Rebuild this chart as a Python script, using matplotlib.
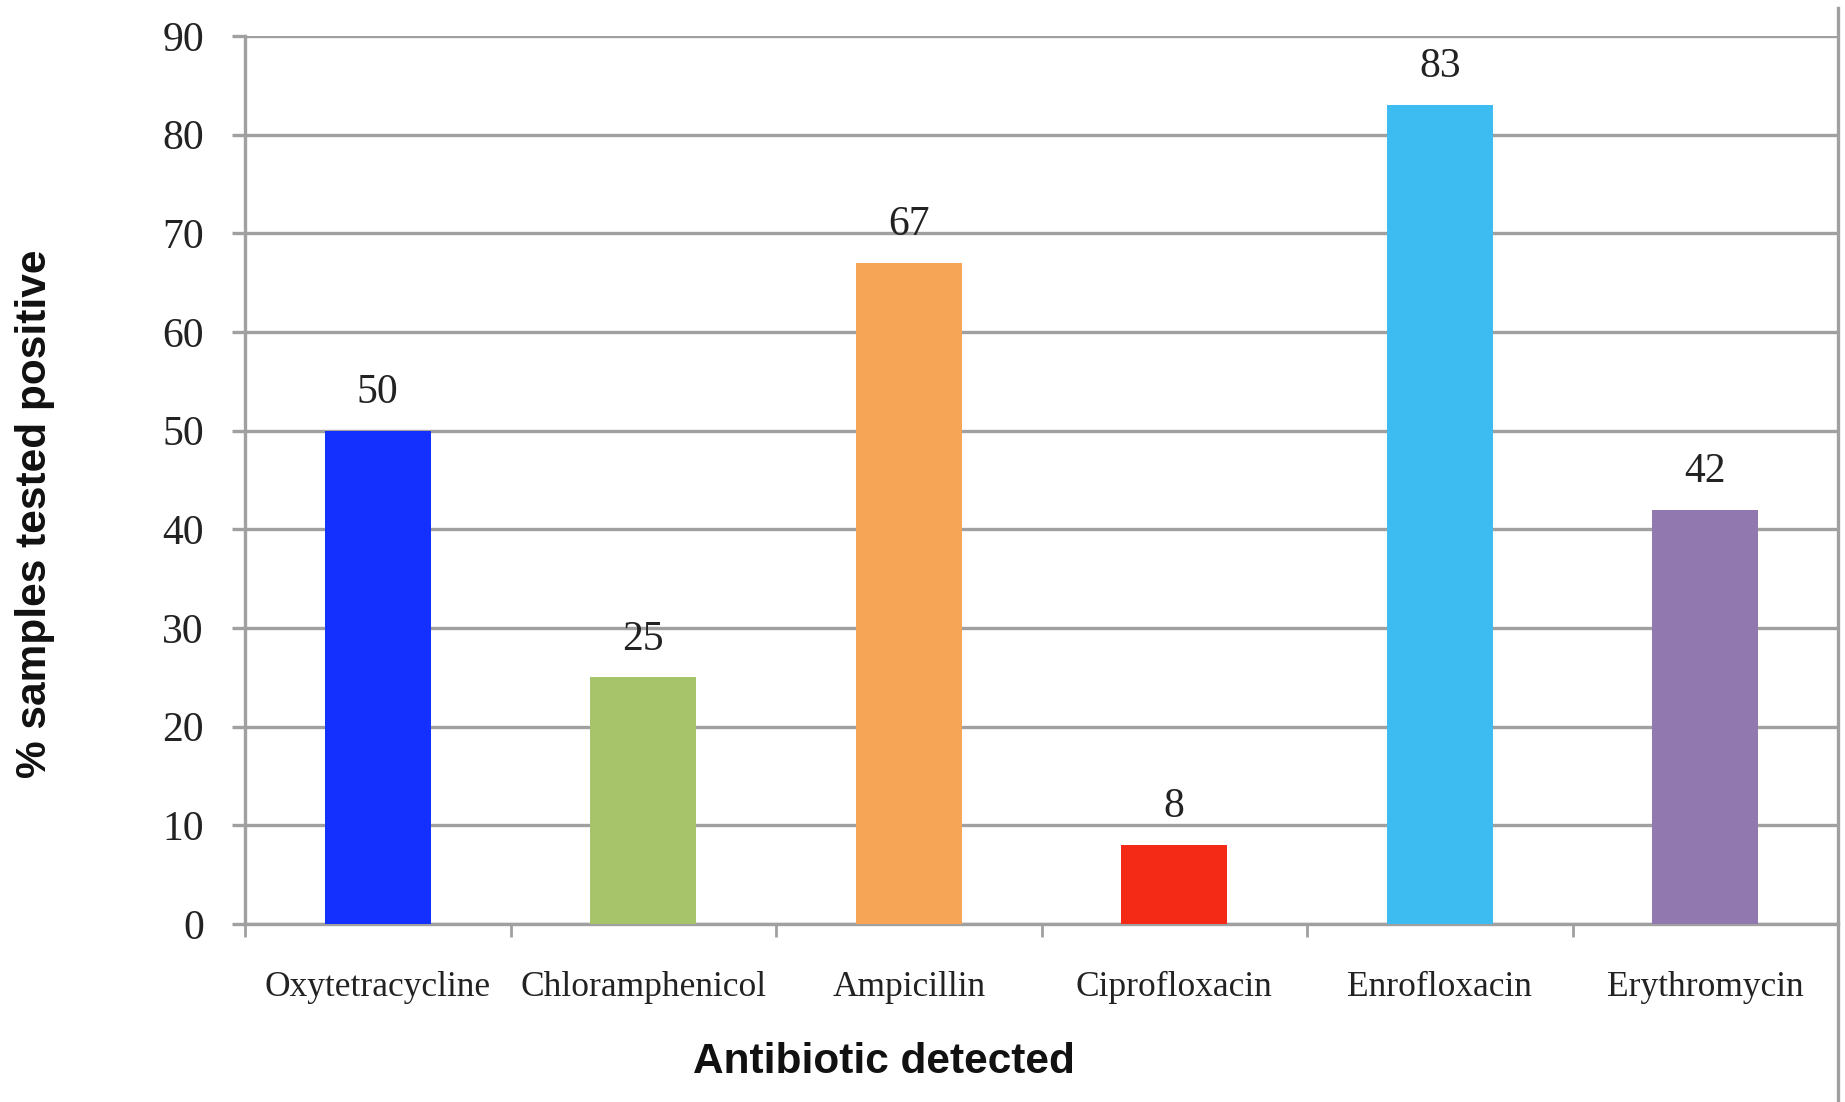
import matplotlib
matplotlib.use("Agg")
import matplotlib.pyplot as plt
from matplotlib.lines import Line2D

categories = ["Oxytetracycline", "Chloramphenicol", "Ampicillin",
              "Ciprofloxacin", "Enrofloxacin", "Erythromycin"]
values = [50, 25, 67, 8, 83, 42]
colors = ["#1430FF", "#A8C46B", "#F6A557", "#F42A16", "#3DBCF2", "#9179B0"]
yticks = [0, 10, 20, 30, 40, 50, 60, 70, 80, 90]

W, H, DPI = 1845, 1102, 100
fig = plt.figure(figsize=(W / DPI, H / DPI), dpi=DPI)
ax = fig.add_axes([245 / W, 1 - 924 / H, (1838 - 245) / W, (924 - 36) / H])

grid_c = "#A0A0A0"
x = list(range(len(categories)))
ax.bar(x, values, width=0.4, color=colors, zorder=3)

ax.set_xlim(-0.5, len(categories) - 0.5)
ax.set_ylim(0, 90)
ax.set_yticks(yticks)
ax.set_yticklabels([str(t) for t in yticks], fontfamily="Liberation Serif",
                   fontsize=30, color="#222222")
ax.yaxis.grid(True, color=grid_c, linewidth=2.4, zorder=0)
ax.set_axisbelow(True)

ax.set_xticks(x)
ax.set_xticklabels(categories, fontfamily="Liberation Serif", fontsize=25.5,
                   color="#222222")
ax.set_xticks([i - 0.5 for i in range(len(categories) + 1)], minor=True)
ax.tick_params(axis="x", which="major", length=0, pad=34)
ax.tick_params(axis="x", which="minor", length=9, width=2, color=grid_c,
               direction="out")
ax.tick_params(axis="y", which="major", length=9.5, width=2.4, color=grid_c,
               pad=20)

for s in ["top", "right"]:
    ax.spines[s].set_visible(False)
for s in ["left", "bottom"]:
    ax.spines[s].set_color(grid_c)
    ax.spines[s].set_linewidth(2.4)

for xi, v in zip(x, values):
    ax.annotate(str(v), (xi, v), xytext=(0, 20), textcoords="offset points",
                ha="center", va="baseline", fontfamily="Liberation Serif",
                fontsize=30, color="#222222")

fig.text(884 / W, 1 - 1062 / H, "Antibiotic detected", ha="center",
         va="center", fontfamily="Liberation Sans", fontweight="bold",
         fontsize=30.5, color="#111111")
fig.text(35 / W, 1 - 514 / H, "% samples tested positive", ha="center",
         va="center", rotation=90, fontfamily="Liberation Sans",
         fontweight="bold", fontsize=30.5, color="#111111")

fig.add_artist(Line2D([1838 / W, 1838 / W], [1 - 8 / H, 0],
                      transform=fig.transFigure, color=grid_c, linewidth=2.4))

fig.savefig("out.png", dpi=DPI)
